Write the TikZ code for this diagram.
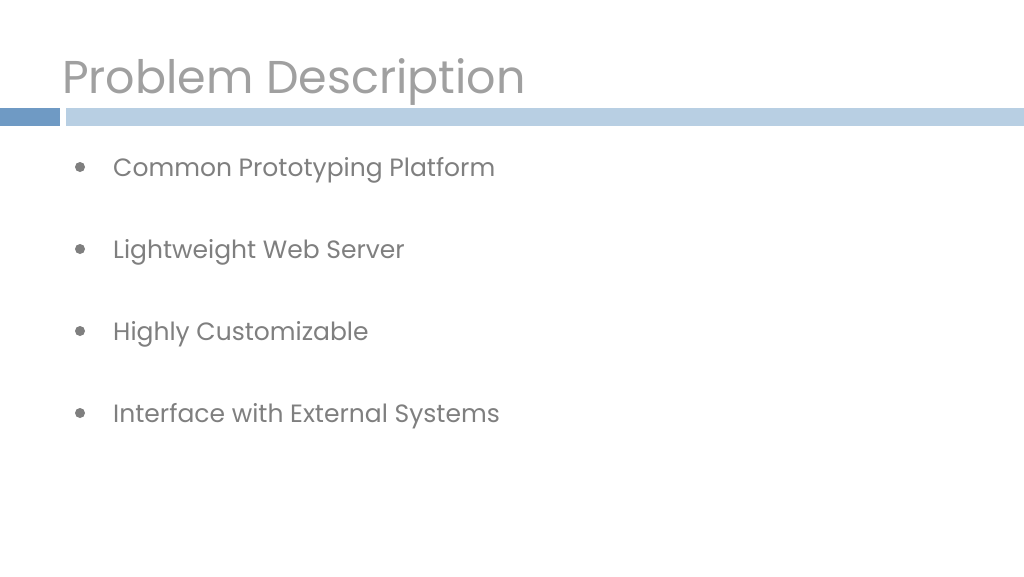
\documentclass[tikz,border=0pt]{standalone}
\usepackage{fontspec}
\setmainfont{Poppins}
\definecolor{titlegray}{HTML}{A0A0A0}
\definecolor{textgray}{HTML}{7F7F7F}
\definecolor{bardark}{HTML}{6F9AC4}
\definecolor{barlight}{HTML}{B8CFE3}
\begin{document}
\begin{tikzpicture}[x=1pt,y=-1pt,
  item/.style={anchor=base west,inner sep=0,text=textgray,font=\fontsize{25}{30}\selectfont},
  dot/.style={circle,fill=textgray,minimum size=10pt,inner sep=0}]
\useasboundingbox (0,0) rectangle (1024,576);
\fill[white] (0,0) rectangle (1024,576);
\node[anchor=base west,inner sep=0,text=titlegray,font=\fontsize{46}{50}\selectfont] (title) at (62,93) {Problem Description};
\fill[bardark] (0,108) rectangle (60,126);
\fill[barlight] (66,108) rectangle (1024,126);
\foreach \t/\y [count=\i] in {Common Prototyping Platform/176,Lightweight Web Server/258,Highly Customizable/340,Interface with External Systems/422}{
  \node[item] (i\i) at (113,\y) {\t};
  \node[dot] (d\i) at (80,\y-9) {};
}
\end{tikzpicture}
\end{document}
